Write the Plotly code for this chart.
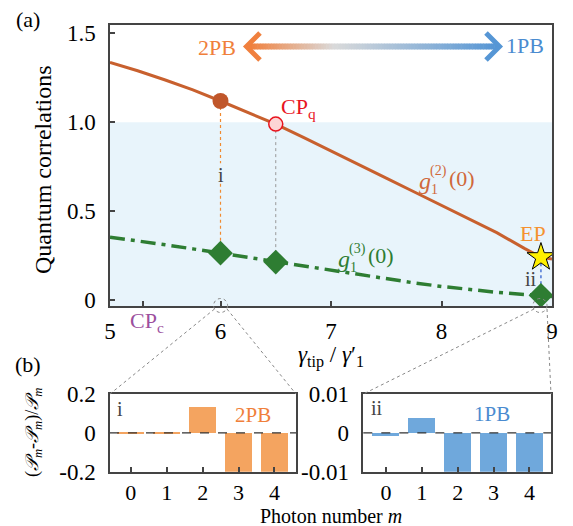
import plotly.graph_objects as go

W, H = 573, 526
FONT = "Liberation Serif, Times New Roman, serif"

# ---------------- data ----------------
gamma_ratio = [5.00, 5.25, 5.50, 5.75, 6.00, 6.25, 6.50, 6.75, 7.00, 7.25,
               7.50, 7.75, 8.00, 8.25, 8.50, 8.75, 8.90, 9.00]
g2_vals = [1.337, 1.290, 1.238, 1.182, 1.120, 1.057, 0.990, 0.915, 0.840, 0.763,
           0.686, 0.610, 0.533, 0.457, 0.380, 0.292, 0.242, 0.232]
g3_vals = [0.355, 0.335, 0.312, 0.289, 0.265, 0.240, 0.215, 0.192, 0.170, 0.146,
           0.122, 0.098, 0.078, 0.060, 0.045, 0.033, 0.028, 0.022]

pt_i = 6.0      # point i (2PB)
pt_cpq = 6.5    # CP_q
pt_ep = 8.9     # EP (point ii, 1PB)
cp_c = 5.3

photon_m = [0, 1, 2, 3, 4]
dP_2PB = [-0.002, -0.002, 0.133, -0.21, -0.21]
dP_1PB = [-0.00085, 0.0037, -0.0105, -0.0105, -0.0105]

main_xticks = [5, cp_c, 6, 7, 8, 9]
main_xtext = ["5", " ", "6", "7", "8", "9"]
main_yticks = [0, 0.5, 1.0, 1.5]
main_ytext = ["0", "0.5", "1.0", "1.5"]


def val(arr, x):
    return arr[gamma_ratio.index(x)]


def PX(px):
    return px / W


def PY(py):
    return 1 - py / H


# colours
C_G2 = "#C8602E"
C_G3 = "#2E7D32"
C_OR = "#F07F3B"
C_BL = "#4A8BD0"
C_RED = "#E8141E"
C_BAR_OR = "#F4A460"
C_BAR_BL = "#6FA8DC"

fig = go.Figure()

# ---------------- main panel ----------------
fig.add_trace(go.Scatter(x=gamma_ratio, y=g2_vals, mode="lines",
                         line=dict(color=C_G2, width=3), xaxis="x", yaxis="y"))
fig.add_trace(go.Scatter(x=gamma_ratio, y=g3_vals, mode="lines",
                         line=dict(color=C_G3, width=3.5, dash="15px,6px,4px,6px"),
                         xaxis="x", yaxis="y"))

# vertical guide lines
top_i, bot_i = val(g2_vals, pt_i), val(g3_vals, pt_i)
fig.add_trace(go.Scatter(x=[pt_i, pt_i, None, pt_i, pt_i],
                         y=[top_i, 0.77, None, 0.655, bot_i], mode="lines",
                         line=dict(color="#F08A30", width=1.2, dash="dot"),
                         xaxis="x", yaxis="y"))
fig.add_trace(go.Scatter(x=[pt_cpq, pt_cpq], y=[val(g2_vals, pt_cpq), val(g3_vals, pt_cpq)],
                         mode="lines", line=dict(color="#999999", width=1, dash="dot"),
                         xaxis="x", yaxis="y"))
fig.add_trace(go.Scatter(x=[pt_ep, pt_ep], y=[val(g2_vals, pt_ep), val(g3_vals, pt_ep)],
                         mode="lines", line=dict(color="#2255CC", width=1.2, dash="dot"),
                         xaxis="x", yaxis="y"))

# markers
fig.add_trace(go.Scatter(x=[pt_i, pt_cpq, pt_ep], y=[val(g3_vals, pt_i), val(g3_vals, pt_cpq), val(g3_vals, pt_ep)],
                         mode="markers", marker=dict(symbol="diamond", size=19, color=C_G3),
                         xaxis="x", yaxis="y"))
fig.add_trace(go.Scatter(x=[pt_i], y=[val(g2_vals, pt_i)], mode="markers",
                         marker=dict(symbol="circle", size=16, color="#C0562A"),
                         xaxis="x", yaxis="y"))
fig.add_trace(go.Scatter(x=[pt_cpq], y=[val(g2_vals, pt_cpq)], mode="markers",
                         marker=dict(symbol="circle", size=14, color="#FDD5D5",
                                     line=dict(color=C_RED, width=1.5)),
                         xaxis="x", yaxis="y"))
fig.add_trace(go.Scatter(x=[pt_ep], y=[val(g2_vals, pt_ep)], mode="markers",
                         marker=dict(symbol="star", size=21, color="#FFF000",
                                     line=dict(color="black", width=1)),
                         xaxis="x", yaxis="y"))

# ---------------- panel (b) ----------------
fig.add_trace(go.Bar(x=photon_m, y=dP_2PB, width=0.75, marker=dict(color=C_BAR_OR, line=dict(width=0)),
                     xaxis="x2", yaxis="y2"))
fig.add_trace(go.Bar(x=photon_m, y=dP_1PB, width=0.75, marker=dict(color=C_BAR_BL, line=dict(width=0)),
                     xaxis="x3", yaxis="y3"))

axis_common = dict(showline=True, mirror=True, linecolor="#444444", linewidth=1.5,
                   showgrid=False, zeroline=False, ticks="inside", ticklen=5,
                   tickcolor="#444444", tickwidth=1.5, automargin=False,
                   tickfont=dict(family=FONT, size=23, color="black"))
b_xaxis = {**axis_common, "tickfont": dict(family=FONT, size=22, color="black")}

fig.update_layout(
    width=W, height=H, margin=dict(l=0, r=0, t=0, b=0, autoexpand=False),
    plot_bgcolor="white", paper_bgcolor="white", showlegend=False,
    bargap=0,
    xaxis=dict(domain=[PX(110), PX(552)], range=[5, 9], anchor="y",
               tickvals=main_xticks, ticktext=main_xtext, ticklabelstandoff=4, **axis_common),
    yaxis=dict(domain=[PY(306), PY(25)], range=[-0.032, 1.547], anchor="x",
               tickvals=main_yticks, ticktext=main_ytext, ticklabelstandoff=8, **axis_common),
    xaxis2=dict(domain=[PX(110), PX(296)], range=[-0.58, 4.6], anchor="y2",
                tickvals=photon_m, ticklabelstandoff=0, **b_xaxis),
    yaxis2=dict(domain=[PY(471.7), PY(394)], range=[-0.2, 0.2], anchor="x2",
                tickvals=[-0.2, 0, 0.2], ticktext=["-0.2", "0", "0.2"], ticklabelstandoff=8,
                **{**axis_common, "ticks": ""}),
    xaxis3=dict(domain=[PX(363.3), PX(551)], range=[-0.63, 4.6], anchor="y3",
                tickvals=photon_m, ticklabelstandoff=0, **b_xaxis),
    yaxis3=dict(domain=[PY(471.7), PY(394)], range=[-0.01, 0.01], anchor="x3",
                tickvals=[-0.01, 0, 0.01], ticktext=["-0.01", "0", "0.01"], ticklabelstandoff=8,
                **{**axis_common, "ticks": ""}),
)

shapes = []
# shaded region g < 1
shapes.append(dict(type="rect", xref="x domain", yref="y", x0=0, x1=1, y0=-0.032, y1=1.0,
                   fillcolor="#E8F4FB", line=dict(width=0), layer="below"))
# zero dashed lines in (b)
for xr, yr in (("x2 domain", "y2"), ("x3 domain", "y3")):
    shapes.append(dict(type="line", xref=xr, yref=yr, x0=0, x1=1, y0=0, y1=0,
                       line=dict(color="#333333", width=1.2, dash="dash"), layer="above"))

# gradient double arrow
def lerp(a, b, t):
    return tuple(int(round(a[k] + (b[k] - a[k]) * t)) for k in range(3))

c_or, c_gr, c_bl = (240, 128, 62), (218, 218, 218), (86, 150, 213)
x_start, x_end, n_seg = 249, 497, 90
for k in range(n_seg):
    t = k / (n_seg - 1)
    if t < 0.34:
        c = lerp(c_or, c_gr, t / 0.34)
    else:
        c = lerp(c_gr, c_bl, (t - 0.34) / 0.66)
    xa = x_start + (x_end - x_start) * k / n_seg
    xb = x_start + (x_end - x_start) * (k + 1) / n_seg + 0.6
    shapes.append(dict(type="rect", xref="paper", yref="paper", x0=PX(xa), x1=PX(xb),
                       y0=PY(49.5), y1=PY(43.5), fillcolor="rgb(%d,%d,%d)" % c, line=dict(width=0)))
shapes.append(dict(type="path", xref="paper", yref="paper",
                   path="M %f %f L %f %f L %f %f" % (PX(260), PY(33), PX(246.5), PY(46.5), PX(260), PY(60)),
                   line=dict(color="rgb(240,128,62)", width=5)))
shapes.append(dict(type="path", xref="paper", yref="paper",
                   path="M %f %f L %f %f L %f %f" % (PX(486), PY(33), PX(499.5), PY(46.5), PX(486), PY(60)),
                   line=dict(color="rgb(86,150,213)", width=5)))

# zoom ellipses and connector lines
for (cx, cy) in ((220.6, 305.5), (540, 305.5)):
    shapes.append(dict(type="circle", xref="paper", yref="paper",
                       x0=PX(cx - 7), x1=PX(cx + 7), y0=PY(cy + 7), y1=PY(cy - 7),
                       line=dict(color="#888888", width=1, dash="dot")))
for (a, b) in (((214.5, 309), (110, 394)), ((227, 309), (296, 394)),
               ((534, 309), (363.3, 394)), ((547, 309), (551, 394))):
    shapes.append(dict(type="line", xref="paper", yref="paper",
                       x0=PX(a[0]), y0=PY(a[1]), x1=PX(b[0]), y1=PY(b[1]),
                       line=dict(color="#888888", width=1, dash="dot")))
fig.update_layout(shapes=shapes)

# ---------------- annotations ----------------
def ann(text, x, y, size=22, color="black", angle=0, xanchor="center"):
    return dict(text=text, x=PX(x), y=PY(y), xref="paper", yref="paper", showarrow=False,
                xanchor=xanchor, yanchor="middle", textangle=angle,
                font=dict(family=FONT, size=size, color=color))

anns = [
    ann("(a)", 28, 20, 22),
    ann("(b)", 28, 364, 22),
    ann("Quantum correlations", 43, 170, 24, angle=-90),
    ann("<i>γ</i><sub>tip</sub> / <i>γ</i>′<sub>1</sub>", 331, 356, 23),
    ann("Photon number <i>m</i>", 331, 516, 20),
    ann("(<i>𝒫<sub>m</sub></i>-<i>𝒫<sub>m</sub></i>)/<i>𝒫<sub>m</sub></i>", 33, 433, 18, angle=-90),
    ann("2PB", 216.7, 47, 22, C_OR),
    ann("1PB", 525, 45, 22, C_BL),
    ann("CP<sub>q</sub>", 298, 108, 22, C_RED),
    ann("CP<sub>c</sub>", 147, 322, 22, "#9C4F9E"),
    ann("EP", 532.7, 233, 22, "#F5922F"),
    ann("i", 220.6, 175, 20, "#444444"),
    ann("ii", 531, 279, 20, "#444444"),
    # g1^(2)(0)
    ann("<i>g</i>", 425, 181, 24, "#D0683A"),
    ann("(2)", 438, 171, 14, "#D0683A"),
    ann("1", 434.5, 189, 14, "#D0683A"),
    ann("(0)", 462, 178, 22, "#D0683A"),
    # g1^(3)(0)
    ann("<i>g</i>", 344, 259, 24, C_G3),
    ann("(3)", 357, 249, 14, C_G3),
    ann("1", 353.5, 267, 14, C_G3),
    ann("(0)", 381, 256, 22, C_G3),
    # panel b labels
    ann("i", 120, 409, 20, "#444444"),
    ann("2PB", 253, 415, 21, C_OR),
    ann("ii", 377, 408, 20, "#444444"),
    ann("1PB", 491.7, 414, 21, C_BL),
]
fig.update_layout(annotations=anns)

fig.write_html("out.html")
